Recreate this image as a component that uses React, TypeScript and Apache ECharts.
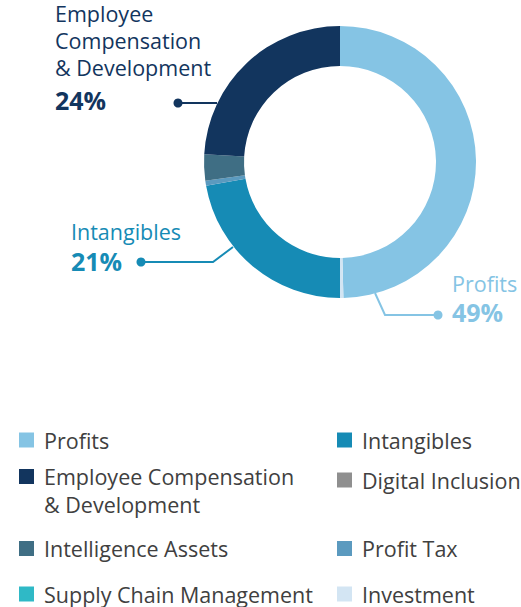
import React, { useEffect, useRef } from 'react';
import * as echarts from 'echarts';

// ---- Data ----
const categories = [
  'Profits',
  'Investment',
  'Intangibles',
  'Profit Tax',
  'Intelligence Assets',
  'Employee Compensation & Development',
  'Digital Inclusion',
  'Supply Chain Management',
];
const shares = [49.6, 0.4, 22.2, 0.6, 3.1, 24.1, 0, 0];
const sliceColors = ['#85C4E4', '#D3E5F3', '#168BB5', '#5B9ABF', '#3F6E84', '#12355E', '#8F8F8F', '#2FB9C6'];

const calloutCategories = ['Employee Compensation & Development', 'Intangibles', 'Profits'];
const calloutNameLines = [['Employee', 'Compensation', '& Development'], ['Intangibles'], ['Profits']];
const calloutPercents = ['24%', '21%', '49%'];

const legendLeftColumn = ['Profits', 'Employee Compensation & Development', 'Intelligence Assets', 'Supply Chain Management'];
const legendRightColumn = ['Intangibles', 'Digital Inclusion', 'Profit Tax', 'Investment'];
const legendLabels: Record<string, string> = {
  'Employee Compensation & Development': 'Employee Compensation\n& Development',
};

// ---- Layout (positions / styles only) ----
const FONT = 'Open Sans';
const CENTER = [340, 162];
const RADIUS = [96, 136];
const calloutLayout = [
  { x: 55, y: 0, nameLH: 27, pctLH: 38, line: [[217, 103], [197, 103], [178, 103]] },
  { x: 71, y: 217, nameLH: 28, pctLH: 31, line: [[233, 247], [213, 262], [141, 262]] },
  { x: 452, y: 269, nameLH: 28, pctLH: 30, line: [[375, 293], [385, 315], [438, 315]] },
];
const legendRowTops = [429, 469, 537.5, 583];
const legendColumnLefts = [19, 337];

function buildOption() {
  const data = categories.map((name, i) => {
    const ci = calloutCategories.indexOf(name);
    const color = sliceColors[i];
    const item: any = { name, value: shares[i], itemStyle: { color } };
    if (ci >= 0) {
      const lay = calloutLayout[ci];
      const text =
        calloutNameLines[ci].map((l) => `{n|${l}}`).join('\n') + `\n{p|${calloutPercents[ci]}}`;
      item.label = {
        show: true,
        position: 'outside',
        formatter: text,
        rich: {
          n: { fontFamily: FONT, fontSize: 21.5, lineHeight: lay.nameLH, color },
          p: { fontFamily: FONT, fontSize: 25, fontWeight: 'bold', lineHeight: lay.pctLH, color },
        },
      };
      item.labelLine = { show: true, smooth: false, lineStyle: { color, width: 2 } };
    }
    return item;
  });

  const legends: any[] = [];
  [legendLeftColumn, legendRightColumn].forEach((col, c) => {
    col.forEach((name, r) => {
      const label = legendLabels[name] || name;
      const twoLine = label.indexOf('\n') >= 0;
      legends.push({
        left: legendColumnLefts[c],
        top: twoLine ? legendRowTops[r] - 34.5 : legendRowTops[r],
        padding: 0,
        orient: 'vertical',
        itemWidth: 15,
        itemHeight: 15,
        icon: 'rect',
        selectedMode: false,
        data: [name],
        // a blank first line keeps the first text line level with the icon
        formatter: () => (twoLine ? ' \n' + label : label),
        textStyle: {
          fontFamily: FONT,
          fontSize: 21.5,
          color: '#404040',
          lineHeight: twoLine ? 28 : 15,
          padding: [0, 0, 0, 5],
        },
      });
    });
  });

  const dots = calloutLayout.map((lay, ci) => {
    const end = lay.line[lay.line.length - 1];
    return {
      type: 'circle',
      shape: { cx: end[0], cy: end[1], r: 4.5 },
      style: { fill: sliceColors[categories.indexOf(calloutCategories[ci])] },
      silent: true,
    };
  });

  return {
    animation: false,
    backgroundColor: '#ffffff',
    legend: legends,
    graphic: dots,
    series: [
      {
        type: 'pie',
        center: CENTER,
        radius: RADIUS,
        startAngle: 90,
        clockwise: true,
        avoidLabelOverlap: false,
        silent: true,
        itemStyle: { borderWidth: 0 },
        label: { show: false },
        labelLine: { show: false },
        data,
        labelLayout: (params: any) => {
          const name = categories[params.dataIndex];
          const ci = calloutCategories.indexOf(name);
          if (ci < 0) return {};
          const lay = calloutLayout[ci];
          return {
            x: lay.x,
            y: lay.y,
            align: 'left',
            verticalAlign: 'top',
            labelLinePoints: lay.line,
          };
        },
      },
    ],
  };
}

export default function App() {
  const ref = useRef<HTMLDivElement>(null);
  useEffect(() => {
    if (!ref.current) return;
    const chart = echarts.init(ref.current, null, { renderer: 'svg' });
    chart.setOption(buildOption() as any);
    return () => chart.dispose();
  }, []);
  return (
    <div
      ref={ref}
      style={{ position: 'fixed', left: 0, top: 0, width: 521, height: 607, background: '#fff' }}
    />
  );
}
